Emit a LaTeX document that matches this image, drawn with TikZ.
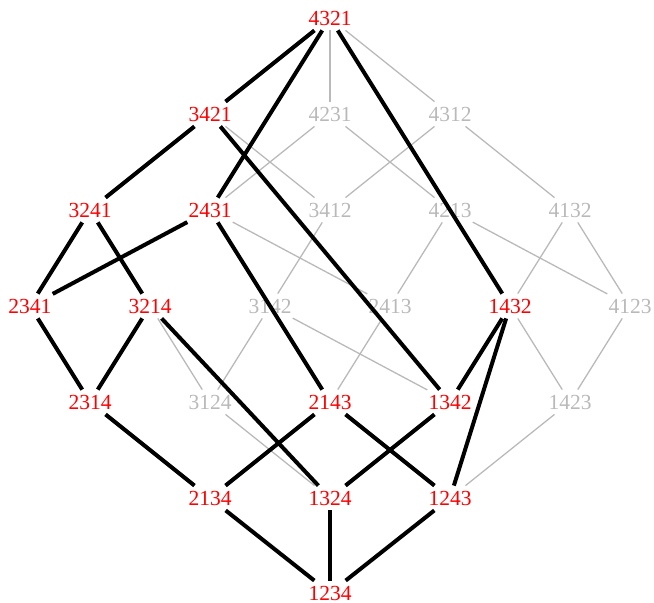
\documentclass[tikz,border=0pt]{standalone}
\usepackage{fontspec}
\setmainfont{Liberation Serif}
\definecolor{lg}{RGB}{185,185,185}
\definecolor{rd}{RGB}{255,0,0}
\begin{document}
\begin{tikzpicture}[x=1pt,y=-1pt,
  pnode/.style={font=\fontsize{21.5}{24}\selectfont, inner xsep=1pt, inner ysep=5pt},
  on/.style={pnode,text=rd},
  off/.style={pnode,text=lg},
  blk/.style={line width=4pt,black},
  gry/.style={line width=1.3pt,lg}]
\useasboundingbox (0,0) rectangle (654,603);
% row 0
\node[on]  (p4321) at (330,18) {4321};
% row 1
\node[on]  (p3421) at (210,114) {3421};
\node[off] (p4231) at (330,114) {4231};
\node[off] (p4312) at (450,114) {4312};
% row 2
\node[on]  (p3241) at (90,210) {3241};
\node[on]  (p2431) at (210,210) {2431};
\node[off] (p3412) at (330,210) {3412};
\node[off] (p4213) at (450,210) {4213};
\node[off] (p4132) at (570,210) {4132};
% row 3
\node[on]  (p2341) at (30,306) {2341};
\node[on]  (p3214) at (150,306) {3214};
\node[off] (p3142) at (270,306) {3142};
\node[off] (p2413) at (390,306) {2413};
\node[on]  (p1432) at (510,306) {1432};
\node[off] (p4123) at (630,306) {4123};
% row 4
\node[on]  (p2314) at (90,402) {2314};
\node[off] (p3124) at (210,402) {3124};
\node[on]  (p2143) at (330,402) {2143};
\node[on]  (p1342) at (450,402) {1342};
\node[off] (p1423) at (570,402) {1423};
% row 5
\node[on]  (p2134) at (210,498) {2134};
\node[on]  (p1324) at (330,498) {1324};
\node[on]  (p1243) at (450,498) {1243};
% row 6
\node[on]  (p1234) at (330,593) {1234};
% gray edges
\draw[gry] (p4321) -- (p4231);
\draw[gry] (p4321) -- (p4312);
\draw[gry] (p3421) -- (p3412);
\draw[gry] (p4231) -- (p2431);
\draw[gry] (p4231) -- (p4213);
\draw[gry] (p4312) -- (p3412);
\draw[gry] (p4312) -- (p4132);
\draw[gry] (p2431) -- (p2413);
\draw[gry] (p3412) -- (p3142);
\draw[gry] (p4213) -- (p2413);
\draw[gry] (p4213) -- (p4123);
\draw[gry] (p4132) -- (p1432);
\draw[gry] (p4132) -- (p4123);
\draw[gry] (p3214) -- (p3124);
\draw[gry] (p3142) -- (p3124);
\draw[gry] (p3142) -- (p1342);
\draw[gry] (p2413) -- (p2143);
\draw[gry] (p1432) -- (p1423);
\draw[gry] (p4123) -- (p1423);
\draw[gry] (p3124) -- (p1324);
\draw[gry] (p1423) -- (p1243);
% black edges
\draw[blk] (p4321) -- (p3421);
\draw[blk] (p4321) -- (p2431);
\draw[blk] (p4321) -- (p1432);
\draw[blk] (p3421) -- (p3241);
\draw[blk] (p3421) -- (p1342);
\draw[blk] (p2431) -- (p2341);
\draw[blk] (p2431) -- (p2143);
\draw[blk] (p3241) -- (p2341);
\draw[blk] (p3241) -- (p3214);
\draw[blk] (p2341) -- (p2314);
\draw[blk] (p3214) -- (p2314);
\draw[blk] (p3214) -- (p1324);
\draw[blk] (p2314) -- (p2134);
\draw[blk] (p2143) -- (p2134);
\draw[blk] (p2143) -- (p1243);
\draw[blk] (p1432) -- (p1342);
\draw[blk] (p1432) -- (p1243);
\draw[blk] (p1342) -- (p1324);
\draw[blk] (p2134) -- (p1234);
\draw[blk] (p1324) -- (p1234);
\draw[blk] (p1243) -- (p1234);
\end{tikzpicture}
\end{document}
